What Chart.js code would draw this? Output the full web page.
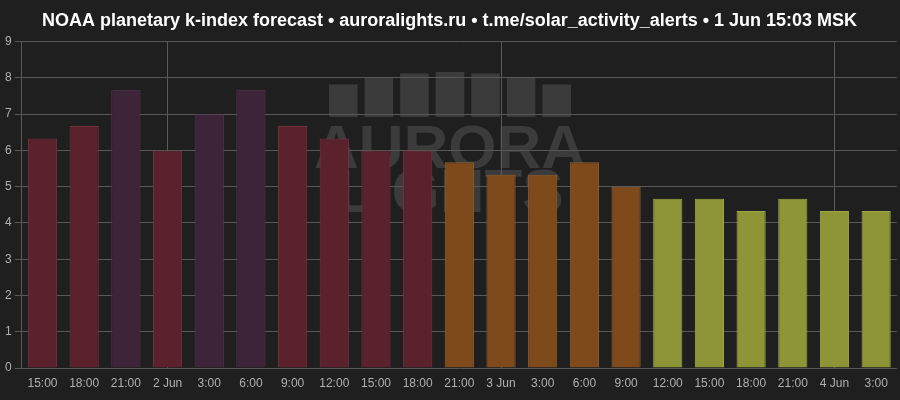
<!DOCTYPE html>
<html>
<head>
<meta charset="utf-8">
<script src="https://cdn.jsdelivr.net/npm/chart.js@4"></script>
<style>
  html, body { margin: 0; padding: 0; background: #1f1f1f; }
  #wrap { width: 900px; height: 400px; }
</style>
</head>
<body>
<div id="wrap"><canvas id="myChart"></canvas></div>
<script>
// forecast slots (MSK) and predicted Kp
const labels = ['15:00', '18:00', '21:00', '2 Jun', '3:00', '6:00', '9:00', '12:00', '15:00', '18:00',
  '21:00', '3 Jun', '3:00', '6:00', '9:00', '12:00', '15:00', '18:00', '21:00', '4 Jun', '3:00'];
const kp = [6.33, 6.67, 7.67, 6, 7, 7.67, 6.67, 6.33, 6, 6,
  5.67, 5.33, 5.33, 5.67, 5, 4.67, 4.67, 4.33, 4.67, 4.33, 4.33];
const yTicks = [0, 1, 2, 3, 4, 5, 6, 7, 8, 9];

function fillFor(v) {
  if (v >= 7) return '#3d2439';
  if (v >= 6) return '#5b212d';
  if (v >= 5) return '#7e4a1b';
  return '#8e9536';
}
function borderFor(v) {
  if (v >= 7) return '#563650';
  if (v >= 6) return '#733340';
  if (v >= 5) return '#92602e';
  return '#9ea648';
}

// dark background + faint logo behind the plot
const backdrop = {
  id: 'backdrop',
  beforeDraw(chart) {
    const c = chart.ctx;
    c.save();
    c.fillStyle = '#1f1f1f';
    c.fillRect(0, 0, chart.width, chart.height);
    c.fillStyle = '#3b3b3b';
    // arch of pillars
    const x0 = 329, x1 = 571, n = 7, gap = 7;
    const w = (x1 - x0 - gap * (n - 1)) / n;
    for (let i = 0; i < n; i++) {
      const x = x0 + i * (w + gap);
      const mid = (x + w / 2 - 450) / 121;
      const top = 72 + 16 * mid * mid;
      c.fillRect(x, top, w, 117 - top);
    }
    c.font = 'bold 62px "Liberation Sans", Arial, sans-serif';
    c.textAlign = 'center';
    c.textBaseline = 'alphabetic';
    c.fillText('AURORA', 450, 168);
    c.fillText('LIGHTS', 450, 212);
    c.restore();
  }
};

const ctx = document.getElementById('myChart').getContext('2d');

const chart = new Chart(ctx, {
  type: 'bar',
  data: {
    labels: labels,
    datasets: [{
      label: 'Kp',
      data: kp,
      backgroundColor: kp.map(fillFor),
      borderColor: kp.map(borderFor),
      borderWidth: 1,
      categoryPercentage: 1,
      barPercentage: 0.7
    }]
  },
  plugins: [backdrop],
  options: {
    responsive: true,
    maintainAspectRatio: false,
    animation: false,
    layout: { padding: { top: 4, right: 3, left: 2, bottom: 0 } },
    plugins: {
      legend: { display: false },
      tooltip: { enabled: false },
      title: {
        display: true,
        text: 'NOAA planetary k-index forecast • auroralights.ru • t.me/solar_activity_alerts • 1 Jun 15:03 MSK',
        color: '#ffffff',
        font: { family: '"Liberation Sans", Arial, sans-serif', size: 18, weight: 'bold' },
        padding: { top: 6, bottom: 10 }
      }
    },
    scales: {
      x: {
        offset: true,
        grid: {
          offset: false,
          color: c => (c.tick && String(c.tick.label).includes('Jun')) ? '#5a5a5a' : 'rgba(0,0,0,0)',
          drawTicks: false
        },
        border: { display: false },
        ticks: {
          color: '#b0b0b0',
          font: { family: '"Liberation Sans", Arial, sans-serif', size: 12, lineHeight: 1 },
          padding: 10,
          maxRotation: 0,
          autoSkip: false
        }
      },
      y: {
        min: 0,
        max: 9,
        afterBuildTicks: axis => { axis.ticks = yTicks.map(v => ({ value: v })); },
        grid: { color: '#585858', tickLength: 7 },
        border: { display: true, color: '#585858' },
        ticks: {
          color: '#b0b0b0',
          font: { family: '"Liberation Sans", Arial, sans-serif', size: 12 },
          padding: 3
        }
      }
    }
  }
});
</script>
</body>
</html>
